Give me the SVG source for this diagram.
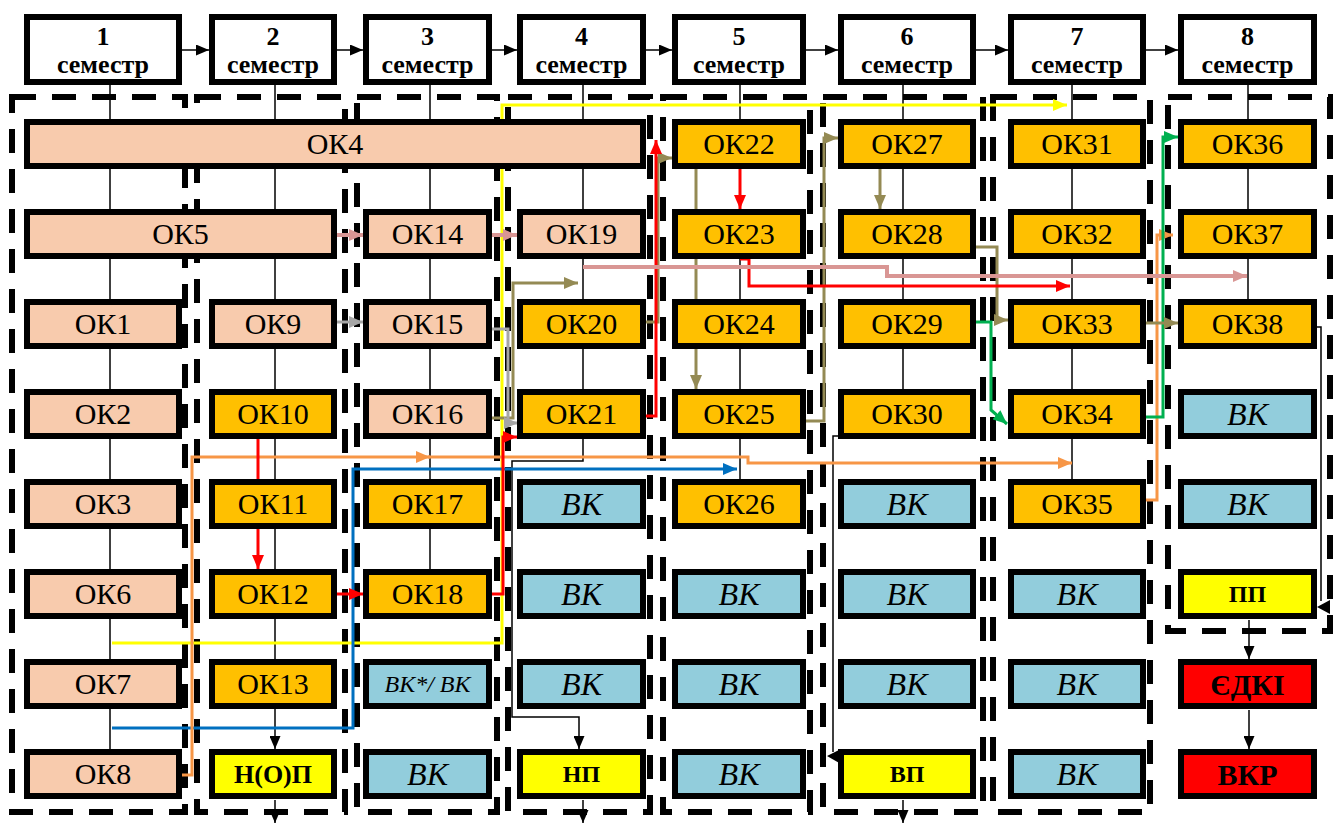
<svg xmlns="http://www.w3.org/2000/svg" width="1335" height="825" viewBox="0 0 1335 825">
<style>
.box{stroke:#000;stroke-width:6}
.w{fill:#fff}.pe{fill:#F8CBAD}.or{fill:#FFC000}.bl{fill:#92CDDC}.ye{fill:#FFFF00}.re{fill:#FF0000}
.t{font-family:"Liberation Serif","Times New Roman",serif;font-size:30px;text-anchor:middle;fill:#000}
.vk{font-style:italic;font-size:32px}
.b{font-weight:bold}
.h{font-weight:bold;font-size:26px}
.s{font-size:24px}
.grp{fill:none;stroke:#000;stroke-width:6;stroke-dasharray:24 16}
.tl{fill:none;stroke:#000;stroke-width:1.5}
.c{fill:none;stroke-width:3}
.cy{stroke:#FFFF00}.cb{stroke:#0070C0}.co{stroke:#F79646}.cg{stroke:#00B050}.col{stroke:#948A54}.cgr{stroke:#A6A6A6}.cr{stroke:#FF0000}.cp{stroke:#D99694;stroke-width:4}
</style>
<defs>
<marker id="mk" markerUnits="userSpaceOnUse" markerWidth="13" markerHeight="11" refX="13" refY="5.5" orient="auto"><path d="M0,0 L13,5.5 L0,11 z" fill="#000"/></marker>
<marker id="my" markerUnits="userSpaceOnUse" markerWidth="14" markerHeight="12" refX="14" refY="6" orient="auto"><path d="M0,0 L14,6 L0,12 z" fill="#FFFF00"/></marker>
<marker id="mb" markerUnits="userSpaceOnUse" markerWidth="14" markerHeight="12" refX="14" refY="6" orient="auto"><path d="M0,0 L14,6 L0,12 z" fill="#0070C0"/></marker>
<marker id="mo" markerUnits="userSpaceOnUse" markerWidth="14" markerHeight="12" refX="14" refY="6" orient="auto"><path d="M0,0 L14,6 L0,12 z" fill="#F79646"/></marker>
<marker id="mg" markerUnits="userSpaceOnUse" markerWidth="14" markerHeight="12" refX="14" refY="6" orient="auto"><path d="M0,0 L14,6 L0,12 z" fill="#00B050"/></marker>
<marker id="mol" markerUnits="userSpaceOnUse" markerWidth="14" markerHeight="12" refX="14" refY="6" orient="auto"><path d="M0,0 L14,6 L0,12 z" fill="#948A54"/></marker>
<marker id="mgr" markerUnits="userSpaceOnUse" markerWidth="14" markerHeight="12" refX="14" refY="6" orient="auto"><path d="M0,0 L14,6 L0,12 z" fill="#A6A6A6"/></marker>
<marker id="mr" markerUnits="userSpaceOnUse" markerWidth="14" markerHeight="12" refX="14" refY="6" orient="auto"><path d="M0,0 L14,6 L0,12 z" fill="#FF0000"/></marker>
<marker id="mp" markerUnits="userSpaceOnUse" markerWidth="14" markerHeight="12" refX="14" refY="6" orient="auto"><path d="M0,0 L14,6 L0,12 z" fill="#D99694"/></marker>
</defs>
<rect width="1335" height="825" fill="#fff"/>
<g id="semester-groups">
<rect class="grp" x="12" y="97" width="173" height="715"/>
<rect class="grp" x="197" y="97" width="148" height="715"/>
<rect class="grp" x="357" y="97" width="140" height="715"/>
<rect class="grp" x="508" y="97" width="142" height="715"/>
<rect class="grp" x="663" y="97" width="147" height="715"/>
<rect class="grp" x="823" y="97" width="160" height="715"/>
<rect class="grp" x="993" y="97" width="157" height="715"/>
<rect class="grp" x="1168" y="97" width="162" height="534"/>
</g>
<g id="connectors">
<path class="tl" d="M182,50 H209" marker-end="url(#mk)"/>
<path class="tl" d="M337,50 H363" marker-end="url(#mk)"/>
<path class="tl" d="M492,50 H517" marker-end="url(#mk)"/>
<path class="tl" d="M646,50 H672" marker-end="url(#mk)"/>
<path class="tl" d="M806,50 H838" marker-end="url(#mk)"/>
<path class="tl" d="M976,50 H1008" marker-end="url(#mk)"/>
<path class="tl" d="M1146,50 H1178" marker-end="url(#mk)"/>
<path class="tl" d="M110,85 V749"/>
<path class="tl" d="M275,85 V749" marker-end="url(#mk)"/>
<path class="tl" d="M275,800 V823" marker-end="url(#mk)"/>
<path class="tl" d="M430,85 V569"/>
<path class="tl" d="M583,85 V461 H512 V717 H579 V749" marker-end="url(#mk)"/>
<path class="tl" d="M583,800 V823" marker-end="url(#mk)"/>
<path class="tl" d="M740,85 V479"/>
<path class="tl" d="M903,85 V389"/>
<path class="tl" d="M838,436 H833 V752"/>
<polygon points="827,756 841,749 841,764" fill="#000"/>
<path class="tl" d="M903,800 V823" marker-end="url(#mk)"/>
<path class="tl" d="M1072,85 V479"/>
<path class="tl" d="M1248,85 V299"/>
<path class="tl" d="M1317,327 H1321 V601"/>
<polygon points="1317,607 1330,600 1330,614" fill="#000"/>
<path class="tl" d="M1249,620 V659" marker-end="url(#mk)"/>
<path class="tl" d="M1249,710 V749" marker-end="url(#mk)"/>

<path class="c cy" d="M112,643 H502 V105 H1067" marker-end="url(#my)"/>
<path class="c cb" d="M112,728 H353 V469 H737" marker-end="url(#mb)"/>
<path class="c co" d="M182,775 H192 V457 H430" marker-end="url(#mo)"/>
<path class="c co" d="M428,457 H748 V463 H1072" marker-end="url(#mo)"/>
<path class="c co" d="M1146,500 H1157 V235 H1173" marker-end="url(#mo)"/>
<path class="c cg" d="M1146,417 H1163 V137 H1178" marker-end="url(#mg)"/>
<path class="c cg" d="M976,322 H991 V410 L1007,424" marker-end="url(#mg)"/>
<path class="c col" d="M492,418 H513 V283 H578" marker-end="url(#mol)"/>
<path class="c col" d="M646,322 H658 V158 H672" marker-end="url(#mol)"/>
<path class="c col" d="M696,168 V389" marker-end="url(#mol)"/>
<path class="c col" d="M806,421 H824 V138 H838" marker-end="url(#mol)"/>
<path class="c col" d="M880,168 V209" marker-end="url(#mol)"/>
<path class="c col" d="M976,247 H997 V320 H1008" marker-end="url(#mol)"/>
<path class="c col" d="M1146,323 H1178" marker-end="url(#mol)"/>
<path class="c cgr" d="M337,322 H363" marker-end="url(#mgr)"/>
<path class="c cgr" d="M492,329 H508 V423 H518" marker-end="url(#mgr)"/>
<path class="c cr" d="M258,439 V569" marker-end="url(#mr)"/>
<path class="c cr" d="M337,594 H363" marker-end="url(#mr)"/>
<path class="c cr" d="M492,594 H503 V437 H517" marker-end="url(#mr)"/>
<path class="c cr" d="M646,416 H656 V140" marker-end="url(#mr)"/>
<path class="c cr" d="M740,168 V209" marker-end="url(#mr)"/>
<path class="c cr" d="M740,259 H749 V286 H1070" marker-end="url(#mr)"/>
<path class="c cp" d="M337,235 H363" marker-end="url(#mp)"/>
<path class="c cp" d="M492,235 H517" marker-end="url(#mp)"/>
<path class="c cp" d="M583,267 H887 V276 H1247" marker-end="url(#mp)"/>
</g>

<g id="sem1"><rect class="box w" x="27" y="17" width="152" height="65"/><text class="t h" x="103" y="45">1</text><text class="t h" x="103" y="73">семестр</text></g>
<g id="sem2"><rect class="box w" x="212" y="17" width="122" height="65"/><text class="t h" x="273" y="45">2</text><text class="t h" x="273" y="73">семестр</text></g>
<g id="sem3"><rect class="box w" x="366" y="17" width="123" height="65"/><text class="t h" x="427.5" y="45">3</text><text class="t h" x="427.5" y="73">семестр</text></g>
<g id="sem4"><rect class="box w" x="520" y="17" width="123" height="65"/><text class="t h" x="581.5" y="45">4</text><text class="t h" x="581.5" y="73">семестр</text></g>
<g id="sem5"><rect class="box w" x="675" y="17" width="128" height="65"/><text class="t h" x="739" y="45">5</text><text class="t h" x="739" y="73">семестр</text></g>
<g id="sem6"><rect class="box w" x="841" y="17" width="132" height="65"/><text class="t h" x="907" y="45">6</text><text class="t h" x="907" y="73">семестр</text></g>
<g id="sem7"><rect class="box w" x="1011" y="17" width="132" height="65"/><text class="t h" x="1077" y="45">7</text><text class="t h" x="1077" y="73">семестр</text></g>
<g id="sem8"><rect class="box w" x="1181" y="17" width="133" height="65"/><text class="t h" x="1247.5" y="45">8</text><text class="t h" x="1247.5" y="73">семестр</text></g>

<g id="ok4"><rect class="box pe" x="27" y="122" width="616" height="44"/><text class="t" x="335" y="154">ОК4</text></g>
<g id="ok22"><rect class="box or" x="675" y="122" width="128" height="44"/><text class="t" x="739" y="154">ОК22</text></g>
<g id="ok27"><rect class="box or" x="841" y="122" width="132" height="44"/><text class="t" x="907" y="154">ОК27</text></g>
<g id="ok31"><rect class="box or" x="1011" y="122" width="132" height="44"/><text class="t" x="1077" y="154">ОК31</text></g>
<g id="ok36"><rect class="box or" x="1181" y="122" width="133" height="44"/><text class="t" x="1247.5" y="154">ОК36</text></g>

<g id="ok5"><rect class="box pe" x="27" y="212" width="307" height="44"/><text class="t" x="180.5" y="244">ОК5</text></g>
<g id="ok14"><rect class="box pe" x="366" y="212" width="123" height="44"/><text class="t" x="427.5" y="244">ОК14</text></g>
<g id="ok19"><rect class="box pe" x="520" y="212" width="123" height="44"/><text class="t" x="581.5" y="244">ОК19</text></g>
<g id="ok23"><rect class="box or" x="675" y="212" width="128" height="44"/><text class="t" x="739" y="244">ОК23</text></g>
<g id="ok28"><rect class="box or" x="841" y="212" width="132" height="44"/><text class="t" x="907" y="244">ОК28</text></g>
<g id="ok32"><rect class="box or" x="1011" y="212" width="132" height="44"/><text class="t" x="1077" y="244">ОК32</text></g>
<g id="ok37"><rect class="box or" x="1181" y="212" width="133" height="44"/><text class="t" x="1247.5" y="244">ОК37</text></g>

<g id="ok1"><rect class="box pe" x="27" y="302" width="152" height="44"/><text class="t" x="103" y="334">ОК1</text></g>
<g id="ok9"><rect class="box pe" x="212" y="302" width="122" height="44"/><text class="t" x="273" y="334">ОК9</text></g>
<g id="ok15"><rect class="box pe" x="366" y="302" width="123" height="44"/><text class="t" x="427.5" y="334">ОК15</text></g>
<g id="ok20"><rect class="box or" x="520" y="302" width="123" height="44"/><text class="t" x="581.5" y="334">ОК20</text></g>
<g id="ok24"><rect class="box or" x="675" y="302" width="128" height="44"/><text class="t" x="739" y="334">ОК24</text></g>
<g id="ok29"><rect class="box or" x="841" y="302" width="132" height="44"/><text class="t" x="907" y="334">ОК29</text></g>
<g id="ok33"><rect class="box or" x="1011" y="302" width="132" height="44"/><text class="t" x="1077" y="334">ОК33</text></g>
<g id="ok38"><rect class="box or" x="1181" y="302" width="133" height="44"/><text class="t" x="1247.5" y="334">ОК38</text></g>

<g id="ok2"><rect class="box pe" x="27" y="392" width="152" height="44"/><text class="t" x="103" y="424">ОК2</text></g>
<g id="ok10"><rect class="box or" x="212" y="392" width="122" height="44"/><text class="t" x="273" y="424">ОК10</text></g>
<g id="ok16"><rect class="box pe" x="366" y="392" width="123" height="44"/><text class="t" x="427.5" y="424">ОК16</text></g>
<g id="ok21"><rect class="box or" x="520" y="392" width="123" height="44"/><text class="t" x="581.5" y="424">ОК21</text></g>
<g id="ok25"><rect class="box or" x="675" y="392" width="128" height="44"/><text class="t" x="739" y="424">ОК25</text></g>
<g id="ok30"><rect class="box or" x="841" y="392" width="132" height="44"/><text class="t" x="907" y="424">ОК30</text></g>
<g id="ok34"><rect class="box or" x="1011" y="392" width="132" height="44"/><text class="t" x="1077" y="424">ОК34</text></g>
<g id="vk-8-4"><rect class="box bl" x="1181" y="392" width="133" height="44"/><text class="t vk" x="1247.5" y="425">ВК</text></g>

<g id="ok3"><rect class="box pe" x="27" y="482" width="152" height="44"/><text class="t" x="103" y="514">ОК3</text></g>
<g id="ok11"><rect class="box or" x="212" y="482" width="122" height="44"/><text class="t" x="273" y="514">ОК11</text></g>
<g id="ok17"><rect class="box or" x="366" y="482" width="123" height="44"/><text class="t" x="427.5" y="514">ОК17</text></g>
<g id="vk-4-5"><rect class="box bl" x="520" y="482" width="123" height="44"/><text class="t vk" x="581.5" y="515">ВК</text></g>
<g id="ok26"><rect class="box or" x="675" y="482" width="128" height="44"/><text class="t" x="739" y="514">ОК26</text></g>
<g id="vk-6-5"><rect class="box bl" x="841" y="482" width="132" height="44"/><text class="t vk" x="907" y="515">ВК</text></g>
<g id="ok35"><rect class="box or" x="1011" y="482" width="132" height="44"/><text class="t" x="1077" y="514">ОК35</text></g>
<g id="vk-8-5"><rect class="box bl" x="1181" y="482" width="133" height="44"/><text class="t vk" x="1247.5" y="515">ВК</text></g>

<g id="ok6"><rect class="box pe" x="27" y="572" width="152" height="44"/><text class="t" x="103" y="604">ОК6</text></g>
<g id="ok12"><rect class="box or" x="212" y="572" width="122" height="44"/><text class="t" x="273" y="604">ОК12</text></g>
<g id="ok18"><rect class="box or" x="366" y="572" width="123" height="44"/><text class="t" x="427.5" y="604">ОК18</text></g>
<g id="vk-4-6"><rect class="box bl" x="520" y="572" width="123" height="44"/><text class="t vk" x="581.5" y="605">ВК</text></g>
<g id="vk-5-6"><rect class="box bl" x="675" y="572" width="128" height="44"/><text class="t vk" x="739" y="605">ВК</text></g>
<g id="vk-6-6"><rect class="box bl" x="841" y="572" width="132" height="44"/><text class="t vk" x="907" y="605">ВК</text></g>
<g id="vk-7-6"><rect class="box bl" x="1011" y="572" width="132" height="44"/><text class="t vk" x="1077" y="605">ВК</text></g>
<g id="pp"><rect class="box ye" x="1181" y="572" width="133" height="44"/><text class="t b s" x="1247.5" y="602">ПП</text></g>

<g id="ok7"><rect class="box pe" x="27" y="662" width="152" height="44"/><text class="t" x="103" y="694">ОК7</text></g>
<g id="ok13"><rect class="box or" x="212" y="662" width="122" height="44"/><text class="t" x="273" y="694">ОК13</text></g>
<g id="vk-3-7"><rect class="box bl" x="366" y="662" width="123" height="44"/><text class="t s" style="font-style:italic" x="427.5" y="692">ВК*/ ВК</text></g>
<g id="vk-4-7"><rect class="box bl" x="520" y="662" width="123" height="44"/><text class="t vk" x="581.5" y="695">ВК</text></g>
<g id="vk-5-7"><rect class="box bl" x="675" y="662" width="128" height="44"/><text class="t vk" x="739" y="695">ВК</text></g>
<g id="vk-6-7"><rect class="box bl" x="841" y="662" width="132" height="44"/><text class="t vk" x="907" y="695">ВК</text></g>
<g id="vk-7-7"><rect class="box bl" x="1011" y="662" width="132" height="44"/><text class="t vk" x="1077" y="695">ВК</text></g>
<g id="edki"><rect class="box re" x="1181" y="662" width="133" height="44"/><text class="t b" style="font-size:30px" x="1247.5" y="695">ЄДКІ</text></g>

<g id="ok8"><rect class="box pe" x="27" y="752" width="152" height="44"/><text class="t" x="103" y="784">ОК8</text></g>
<g id="nop"><rect class="box ye" x="212" y="752" width="122" height="44"/><text class="t b" style="font-size:26px" x="273" y="783">Н(О)П</text></g>
<g id="vk-3-8"><rect class="box bl" x="366" y="752" width="123" height="44"/><text class="t vk" x="427.5" y="785">ВК</text></g>
<g id="np"><rect class="box ye" x="520" y="752" width="123" height="44"/><text class="t b s" x="581.5" y="782">НП</text></g>
<g id="vk-5-8"><rect class="box bl" x="675" y="752" width="128" height="44"/><text class="t vk" x="739" y="785">ВК</text></g>
<g id="vp"><rect class="box ye" x="841" y="752" width="132" height="44"/><text class="t b s" x="907" y="782">ВП</text></g>
<g id="vk-7-8"><rect class="box bl" x="1011" y="752" width="132" height="44"/><text class="t vk" x="1077" y="785">ВК</text></g>
<g id="vkr"><rect class="box re" x="1181" y="752" width="133" height="44"/><text class="t b" x="1247.5" y="785">ВКР</text></g>
</svg>
